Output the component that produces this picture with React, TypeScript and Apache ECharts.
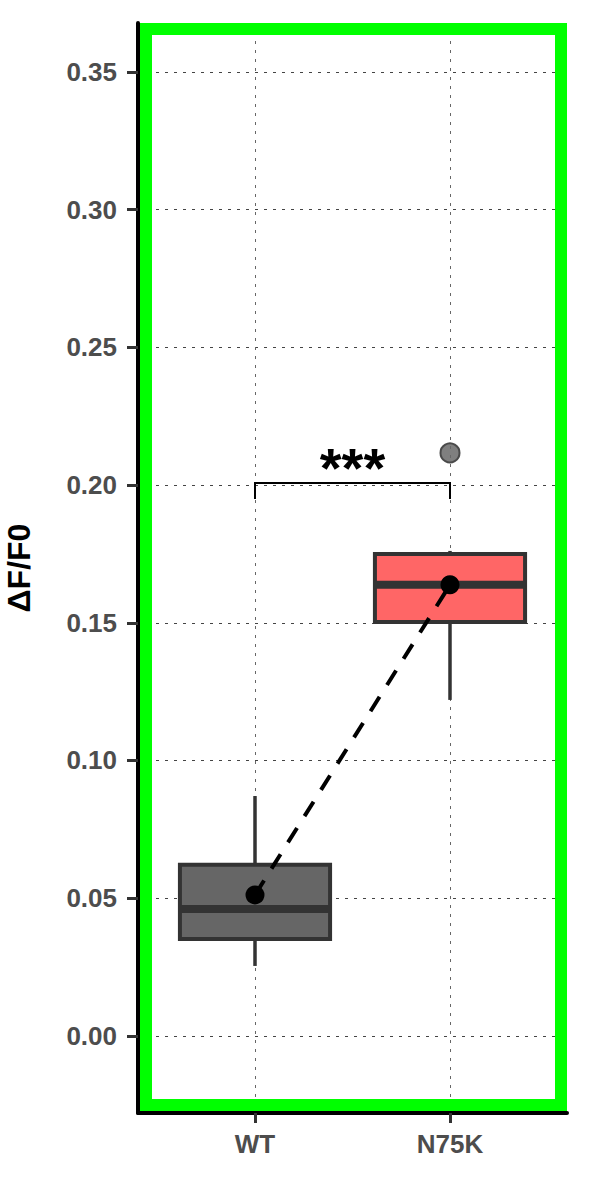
import React, { useEffect, useRef } from "react";
import * as echarts from "echarts";

// ---- data ----
const categories = ["WT", "N75K"];
const boxLow = [0.0254, 0.122];
const boxQ1 = [0.0352, 0.1503];
const boxMedian = [0.0461, 0.1638];
const boxQ3 = [0.0621, 0.175];
const boxHigh = [0.0871, 0.1761];
const groupMeans = [0.0512, 0.1638];
const boxColors = ["#666666", "#ff6666"];
const outlierGroups = [2];
const outlierValues = [0.2117];
const yTicks = [0, 0.05, 0.1, 0.15, 0.2, 0.25, 0.3, 0.35];
const xTicks = [1, 2];
const bracketFrom = [1, 2];
const bracketLevels = [0.195, 0.2008];
const bracketLabel = "***";
const yMin = -0.028;
const yMax = 0.3678;

const FONT = "'Liberation Sans', Arial, Helvetica, sans-serif";

export default function App() {
  const ref = useRef<HTMLDivElement>(null);

  useEffect(() => {
    if (!ref.current) return;
    const chart = echarts.init(ref.current, undefined, { renderer: "svg" });

    const boxData = categories.map((_, i) => [
      i + 1,
      boxLow[i],
      boxQ1[i],
      boxMedian[i],
      boxQ3[i],
      boxHigh[i],
      i,
    ]);

    const option: any = {
      animation: false,
      backgroundColor: "#ffffff",
      grid: {
        left: 138,
        right: 23,
        top: 23,
        bottom: 68,
        containLabel: false,
        outerBoundsMode: "none",
      },
      xAxis: {
        type: "value",
        min: 0.4,
        max: 2.6,
        axisLine: { show: true, onZero: false, lineStyle: { color: "#000", width: 4 } },
        axisTick: {
          show: true,
          customValues: xTicks,
          length: 10,
          lineStyle: { color: "#333", width: 3 },
        },
        axisLabel: {
          customValues: xTicks,
          formatter: (v: number) => categories[Math.round(v) - 1] ?? "",
          fontFamily: FONT,
          fontWeight: "bold",
          fontSize: 26,
          color: "#4d4d4d",
          margin: 18,
        },
        splitLine: {
          show: true,
          lineStyle: { color: "#666", width: 1, type: [3, 6] },
        },
      },
      yAxis: {
        type: "value",
        min: yMin,
        max: yMax,
        name: "ΔF/F0",
        nameLocation: "middle",
        nameGap: 103,
        nameTextStyle: {
          fontFamily: FONT,
          fontWeight: "bold",
          fontSize: 32,
          color: "#000",
        },
        axisLine: { show: true, onZero: false, lineStyle: { color: "#000", width: 4 } },
        axisTick: {
          show: true,
          customValues: yTicks,
          length: 11,
          lineStyle: { color: "#333", width: 3 },
        },
        axisLabel: {
          customValues: yTicks,
          formatter: (v: number) => v.toFixed(2),
          fontFamily: FONT,
          fontWeight: "bold",
          fontSize: 26,
          color: "#4d4d4d",
          margin: 21,
        },
        splitLine: {
          show: true,
          lineStyle: { color: "#444", width: 1, type: [3, 6] },
        },
      },
      graphic: [
        {
          type: "rect",
          z: 50,
          silent: true,
          shape: { x: 146, y: 29, width: 415, height: 1076 },
          style: { fill: "none", stroke: "#00ff00", lineWidth: 12 },
        },
      ],
      series: [
        {
          type: "custom",
          name: "box",
          z: 2,
          data: boxData,
          encode: { x: 0, y: [1, 2, 3, 4, 5] },
          renderItem: (params: any, api: any) => {
            const x = api.value(0);
            const lo = api.coord([x, api.value(1)]);
            const q1 = api.coord([x, api.value(2)]);
            const md = api.coord([x, api.value(3)]);
            const q3 = api.coord([x, api.value(4)]);
            const hi = api.coord([x, api.value(5)]);
            const w = api.size([0.77, 0])[0];
            const idx = api.value(6);
            const cx = lo[0];
            return {
              type: "group",
              children: [
                {
                  type: "line",
                  shape: { x1: cx, y1: q3[1], x2: cx, y2: hi[1] },
                  style: { stroke: "#333", lineWidth: 3.5 },
                },
                {
                  type: "line",
                  shape: { x1: cx, y1: q1[1], x2: cx, y2: lo[1] },
                  style: { stroke: "#333", lineWidth: 3.5 },
                },
                {
                  type: "rect",
                  shape: { x: cx - w / 2, y: q3[1], width: w, height: q1[1] - q3[1] },
                  style: { fill: boxColors[idx], stroke: "#333", lineWidth: 4 },
                },
                {
                  type: "line",
                  shape: { x1: cx - w / 2, y1: md[1], x2: cx + w / 2, y2: md[1] },
                  style: { stroke: "#333", lineWidth: 8 },
                },
              ],
            };
          },
        },
        {
          type: "scatter",
          name: "outliers",
          z: 3,
          data: outlierGroups.map((g, i) => [g, outlierValues[i]]),
          symbol: "circle",
          symbolSize: 19,
          itemStyle: {
            color: "rgba(105,105,105,0.85)",
            borderColor: "#4a4a4a",
            borderWidth: 2,
            opacity: 1,
          },
        },
        {
          type: "line",
          name: "meanLine",
          z: 4,
          data: groupMeans.map((m, i) => [i + 1, m]),
          showSymbol: false,
          symbol: "none",
          lineStyle: { color: "#000", width: 4, type: [17, 14], opacity: 1 },
        },
        {
          type: "scatter",
          name: "means",
          z: 5,
          data: groupMeans.map((m, i) => [i + 1, m]),
          symbol: "circle",
          symbolSize: 19,
          itemStyle: { color: "#000", opacity: 1 },
        },
        {
          type: "custom",
          name: "bracket",
          z: 6,
          data: [[bracketFrom[0], bracketFrom[1], bracketLevels[0], bracketLevels[1]]],
          encode: { x: [0, 1], y: [2, 3] },
          renderItem: (params: any, api: any) => {
            const a = api.coord([api.value(0), api.value(3)]);
            const b = api.coord([api.value(1), api.value(3)]);
            const aLow = api.coord([api.value(0), api.value(2)]);
            const bLow = api.coord([api.value(1), api.value(2)]);
            return {
              type: "group",
              children: [
                {
                  type: "polyline",
                  shape: { points: [aLow, a, b, bLow] },
                  style: { stroke: "#000", lineWidth: 2, fill: "none" },
                },
                {
                  type: "text",
                  x: (a[0] + b[0]) / 2,
                  y: a[1] + 13,
                  style: {
                    text: bracketLabel,
                    fontFamily: FONT,
                    fontWeight: "bold",
                    fontSize: 56,
                    fill: "#000",
                    align: "center",
                    verticalAlign: "bottom",
                  },
                },
              ],
            };
          },
        },
      ],
    };

    chart.setOption(option);
    return () => chart.dispose();
  }, []);

  return (
    <div
      ref={ref}
      style={{ position: "fixed", left: 0, top: 0, width: 590, height: 1181, background: "#fff" }}
    />
  );
}
